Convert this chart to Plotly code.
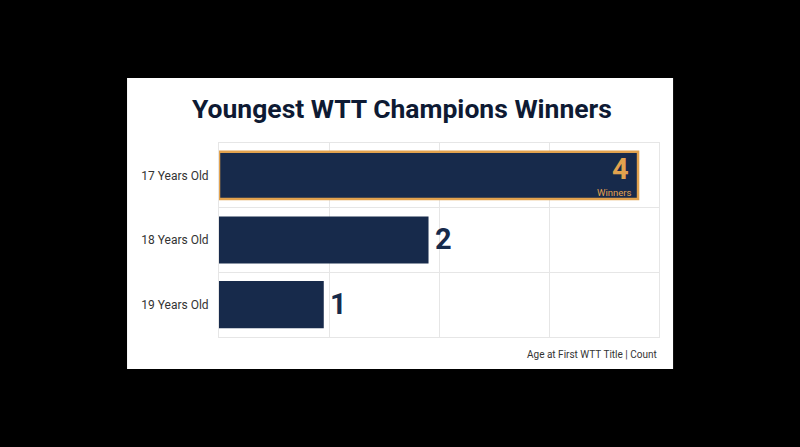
import plotly.graph_objects as go

# data
ages = ["17 Years Old", "18 Years Old", "19 Years Old"]
counts = [4, 2, 1]
count_labels = ["4", "2", "1"]
top_note = "Winners"

navy = "#172a4b"
orange = "#e2a24e"
grid = "#e6e6e6"

fig = go.Figure()
fig.add_trace(go.Bar(
    y=ages,
    x=counts,
    orientation="h",
    marker=dict(color=navy,
                line=dict(color=[orange, navy, navy], width=[2.5, 0, 0])),
    hoverinfo="skip",
))

# value labels: the leader sits inside its bar, the rest just outside
fig.add_annotation(x=counts[0], y=ages[0], xref="x", yref="y",
                   text="<b>" + count_labels[0] + "</b>", showarrow=False,
                   xanchor="right", yanchor="middle", xshift=-7, yshift=6,
                   font=dict(family="Roboto", size=29, color=orange))
fig.add_annotation(x=counts[0], y=ages[0], xref="x", yref="y",
                   text=top_note, showarrow=False,
                   xanchor="right", yanchor="middle", xshift=-5, yshift=-17,
                   font=dict(family="Roboto", size=9.5, color=orange))
for age, val, lab in zip(ages[1:], counts[1:], count_labels[1:]):
    fig.add_annotation(x=val, y=age, xref="x", yref="y",
                       text="<b>" + lab + "</b>", showarrow=False,
                       xanchor="left", yanchor="middle", xshift=4, yshift=1,
                       font=dict(family="Roboto", size=29, color=navy))

# title and footer (paper coords are relative to the plot area 219..659 x 143..337 px)
fig.add_annotation(x=(402 - 219) / 440, y=(337 - 108) / 194,
                   xref="paper", yref="paper",
                   text="<b>Youngest WTT Champions Winners</b>", showarrow=False,
                   xanchor="center", yanchor="middle",
                   font=dict(family="Roboto", size=26.5, color="#0e1a33"))
fig.add_annotation(x=1, y=-0.088, xref="paper", yref="paper",
                   text="Age at First WTT Title | Count", showarrow=False,
                   xanchor="right", yanchor="middle",
                   font=dict(family="Roboto", size=10, color="#333333"))

# white card behind the chart
fig.add_shape(type="rect", xref="paper", yref="paper",
              x0=-0.209, x1=1.032, y0=-0.165, y1=1.335,
              fillcolor="white", line=dict(width=0), layer="below")

fig.update_layout(
    width=800, height=447,
    margin=dict(l=219, r=141, t=143, b=110),
    paper_bgcolor="black",
    plot_bgcolor="white",
    bargap=0.27,
    showlegend=False,
    xaxis=dict(range=[0, 4.2], tick0=0, dtick=1.05, showticklabels=False,
               showgrid=True, gridcolor=grid, gridwidth=1, zeroline=False,
               showline=True, linecolor=grid, mirror=True, fixedrange=True),
    yaxis=dict(categoryorder="array", categoryarray=ages, autorange="reversed",
               tickson="boundaries", showgrid=True, gridcolor=grid,
               showline=True, linecolor=grid, mirror=True, ticks="",
               ticklabelstandoff=7, fixedrange=True,
               tickfont=dict(family="Roboto", size=12, color="#333333")),
)

fig.write_html("out.html", config={"displayModeBar": False},
               post_script="document.body.style.margin='0';")
